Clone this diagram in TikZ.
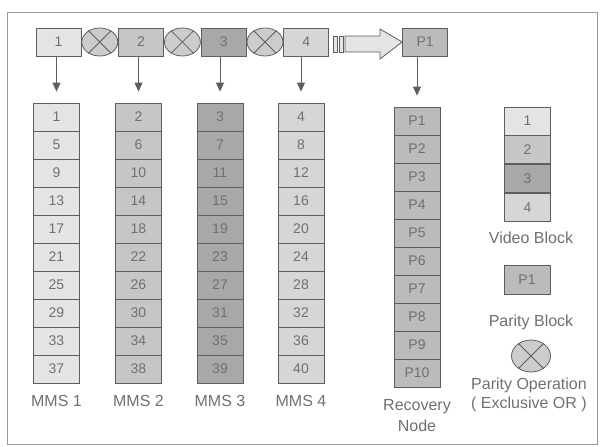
\documentclass[tikz,border=0pt]{standalone}
\usepackage{fontspec}
\setmainfont{Liberation Sans}
\usepackage{tikz}
\usetikzlibrary{arrows.meta,positioning,shapes.geometric}

\definecolor{blkA}{HTML}{E4E4E4}
\definecolor{blkB}{HTML}{C6C6C6}
\definecolor{blkC}{HTML}{A8A8A8}
\definecolor{blkD}{HTML}{D6D6D6}
\definecolor{blkP}{HTML}{BBBBBB}
\definecolor{xorfill}{HTML}{CCCCCC}
\definecolor{edge}{HTML}{5E5E5E}
\definecolor{txt}{HTML}{707070}

\begin{document}
\begin{tikzpicture}[
x=1pt, y=-1pt,
node distance=0pt,
cell/.style={draw=edge, line width=0.8pt, minimum width=46pt, minimum height=28pt, inner sep=0pt,
  text=txt, font=\fontsize{14}{16}\selectfont},
topbox/.style={cell, minimum width=45pt},
xor/.style={ellipse, draw=edge, fill=xorfill, line width=0.8pt, minimum width=36pt, minimum height=28pt, inner sep=0pt,
  append after command={(\tikzlastnode.45) edge[draw=edge, line width=0.8pt] (\tikzlastnode.225)
  (\tikzlastnode.135) edge[draw=edge, line width=0.8pt] (\tikzlastnode.315)}},
lbl/.style={text=txt, font=\fontsize{16}{19}\selectfont, align=center, inner sep=0pt},
arrow/.style={-{Triangle[width=8pt,length=9pt]}, draw=edge, line width=0.8pt, shorten >=11pt},
blockarrow/.style={draw=edge, fill=blkA, line width=0.8pt, line join=miter}
]
\useasboundingbox (0,0) rectangle (600,447);
\draw[draw=gray!80, line width=1pt] (7,12) rectangle (597,444);

% top row
\node[topbox, fill=blkA] (b1) at (58.5,42) {1};
\node[xor, right=of b1] (x1) {};
\node[topbox, fill=blkB, right=of x1] (b2) {2};
\node[xor, right=of b2] (x2) {};
\node[topbox, fill=blkC, right=of x2] (b3) {3};
\node[xor, right=of b3] (x3) {};
\node[topbox, fill=blkD, right=of x3] (b4) {4};
\node[topbox, fill=blkP, right=73pt of b4] (p1) {P1};

% block arrow
\draw[blockarrow] (333,36) rectangle (337,52);
\draw[blockarrow] (339,36) rectangle (343,52);
\draw[blockarrow] (345,36) -- (380,36) -- (380,29) -- (p1.west) -- (380,59) -- (380,52) -- (345,52) -- cycle;

% MMS columns
\foreach \k/\cx/\col in {1/56.5/blkA, 2/138.5/blkB, 3/220/blkC, 4/301/blkD} {
  \foreach \i in {1,...,10} {
    \pgfmathtruncatemacro{\n}{4*(\i-1)+\k}
    \node[cell, fill=\col] (m\k-\i) at (\cx, {117+28*(\i-1)}) {\n};
  }
  \node[lbl] (mms\k) at (\cx, 401) {MMS \k};
}

% recovery node
\foreach \i in {1,...,10}
  \node[cell, fill=blkP] (r-\i) at (417, {121+28*(\i-1)}) {P\i};
\node[lbl] (rec) at (417, 416) {Recovery\\[2pt]Node};

\draw[arrow] (b1.south -| m1-1) -- (m1-1.north);
\draw[arrow] (b2.south -| m2-1) -- (m2-1.north);
\draw[arrow] (b3.south -| m3-1) -- (m3-1.north);
\draw[arrow] (b4.south -| m4-1) -- (m4-1.north);
\draw[arrow] (p1.south -| r-1) -- (r-1.north);

% legend
\node[cell, fill=blkA] (v1) at (527.5,121) {1};
\node[cell, fill=blkB, below=of v1] (v2) {2};
\node[cell, fill=blkC, below=of v2] (v3) {3};
\node[cell, fill=blkD, below=of v3] (v4) {4};
\node[lbl] (vlbl) at (531,238) {Video Block};
\node[cell, fill=blkP, minimum height=29pt] (lp) at (527,280) {P1};
\node[lbl] (plbl) at (531,322) {Parity Block};
\node[xor, minimum width=39pt, minimum height=32pt] (lx) at (531,356) {};
\node[lbl] (xlbl) at (529,395) {Parity Operation\\( Exclusive OR )};
\end{tikzpicture}
\end{document}
